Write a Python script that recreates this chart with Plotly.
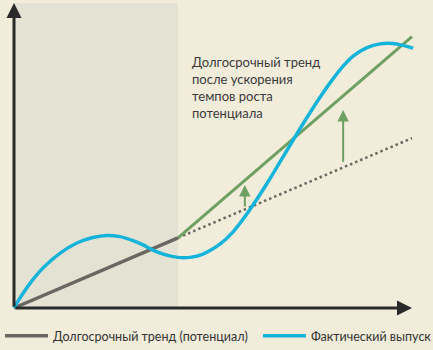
import plotly.graph_objects as go

# ---- data (arbitrary units: time t, output level) ----
trend_t = [0, 41.2]
trend_y = [0, 23.0]

new_trend_t = [41.2, 100]
new_trend_y = [23.0, 89.0]

old_trend_t = [41.2, 100]
old_trend_y = [23.0, 55.7]

actual_t = [0, 2.0, 4.5, 7.5, 11.6, 15.8, 19.8, 23.4, 26.6, 29.9, 32.4, 34.9, 37.9, 41.2,
            44.2, 47.5, 51.8, 55.0, 58.5, 61.1, 63.6, 66.8, 70.1, 73.1, 76.9, 80.2, 82.7,
            85.2, 88.7, 92.0, 95.2, 97.7, 100.3]
actual_y = [0, 4.3, 8.9, 13.4, 18.0, 21.3, 23.1, 23.8, 23.4, 22.1, 20.7, 19.0, 17.5, 16.6,
            16.6, 17.7, 21.0, 24.9, 30.8, 35.8, 40.9, 47.8, 55.0, 61.4, 69.1, 75.2, 79.3,
            82.6, 85.4, 86.6, 86.7, 86.1, 85.2]

shade_end = 41.2          # end of the shaded (past) period
axis_max_t = 100
axis_max_y = 100

# gap arrows: (t, from, to)
arrow_t = [58.0, 82.7]
arrow_from = [32.8, 47.5]
arrow_to = [40.3, 64.9]

label_text = "Долгосрочный тренд<br>после ускорения<br>темпов роста<br>потенциала"
legend_trend = "Долгосрочный тренд (потенциал)"
legend_actual = "Фактический выпуск"

# ---- styles ----
BG = "#F2ECDA"
SHADE = "#E4E2D3"
GRAY = "#6B6661"
GREEN = "#6FA063"
BLUE = "#14B4DA"
AXIS = "#2A2A2A"
FONT = "Lato"

fig = go.Figure()

fig.add_trace(go.Scatter(x=old_trend_t, y=old_trend_y, mode="lines",
                         line=dict(color=GRAY, width=2.5, dash="2.5px,3px"),
                         showlegend=False, hoverinfo="skip"))
fig.add_trace(go.Scatter(x=trend_t, y=trend_y, mode="lines",
                         line=dict(color=GRAY, width=3.5),
                         name=legend_trend, legend="legend"))
fig.add_trace(go.Scatter(x=new_trend_t, y=new_trend_y, mode="lines",
                         line=dict(color=GREEN, width=3),
                         showlegend=False))
fig.add_trace(go.Scatter(x=actual_t, y=actual_y, mode="lines",
                         line=dict(color=BLUE, width=3.5, shape="spline", smoothing=0.7),
                         name=legend_actual, legend="legend2"))

fig.add_shape(type="rect", xref="x", yref="y", x0=0, x1=shade_end, y0=0, y1=axis_max_y,
              fillcolor=SHADE, line=dict(width=0), layer="below")

annotations = []
# axes with arrowheads
annotations.append(dict(x=0, y=axis_max_y, ax=0, ay=0, xref="x", yref="y", axref="x", ayref="y",
                        showarrow=True, arrowhead=2, arrowsize=1, arrowwidth=3, arrowcolor=AXIS, text=""))
annotations.append(dict(x=axis_max_t, y=0, ax=0, ay=0, xref="x", yref="y", axref="x", ayref="y",
                        showarrow=True, arrowhead=2, arrowsize=1, arrowwidth=3, arrowcolor=AXIS, text=""))
# gap arrows
for t, a, b in zip(arrow_t, arrow_from, arrow_to):
    annotations.append(dict(x=t, y=b, ax=t, ay=a, xref="x", yref="y", axref="x", ayref="y",
                            showarrow=True, arrowhead=2, arrowsize=1.15, arrowwidth=2,
                            arrowcolor=GREEN, text=""))
annotations.append(dict(x=44.2, y=84.0, xref="x", yref="y", text=label_text, showarrow=False,
                        xanchor="left", yanchor="top", align="left",
                        font=dict(family=FONT, size=13, color="#3A3A3A")))

W, H = 433, 350
x0px, y0px = 14, 308
sx = (412 - 14) / axis_max_t
sy = (308 - 3) / axis_max_y

fig.update_layout(
    width=W, height=H,
    margin=dict(l=0, r=0, t=0, b=0, autoexpand=False),
    paper_bgcolor=BG, plot_bgcolor=BG,
    xaxis=dict(range=[-x0px / sx, (W - x0px) / sx], visible=False, fixedrange=True),
    yaxis=dict(range=[-(H - y0px) / sy, y0px / sy], visible=False, fixedrange=True),
    annotations=annotations,
    font=dict(family=FONT, size=12.5, color="#333333"),
    legend=dict(x=0, y=(H - 336) / H, xanchor="left", yanchor="middle",
                bgcolor="rgba(0,0,0,0)", itemwidth=43, font=dict(size=12.5)),
    legend2=dict(x=258 / W, y=(H - 336) / H, xanchor="left", yanchor="middle",
                 bgcolor="rgba(0,0,0,0)", itemwidth=43, font=dict(size=12.5)),
    showlegend=True,
)

fig.write_html("out.html")
